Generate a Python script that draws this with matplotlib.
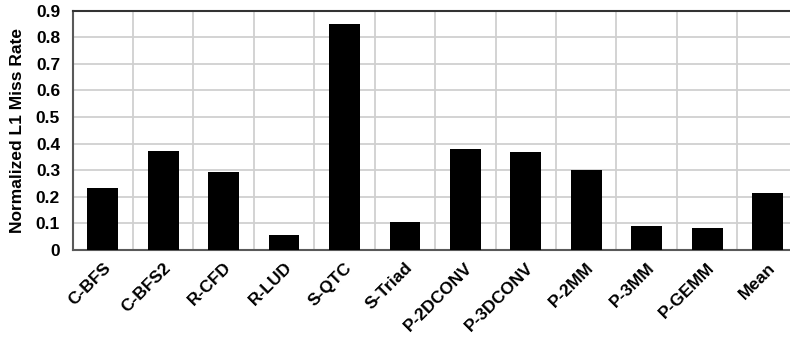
import numpy as np
import matplotlib
matplotlib.use('Agg')
import matplotlib.pyplot as plt

plt.rcParams['font.family'] = ['Liberation Sans', 'DejaVu Sans']
plt.rcParams['font.weight'] = 'bold'

names = ['C-BFS', 'C-BFS2', 'R-CFD', 'R-LUD', 'S-QTC', 'S-Triad',
         'P-2DCONV', 'P-3DCONV', 'P-2MM', 'P-3MM', 'P-GEMM', 'Mean']
miss = [0.233, 0.371, 0.292, 0.058, 0.849, 0.106,
        0.379, 0.369, 0.302, 0.090, 0.084, 0.213]

fig = plt.figure(figsize=(7.9, 3.39), dpi=100)
ax = fig.add_axes([0.0918, 0.2625, 0.918, 0.7065])
ax.set_axisbelow(True)

x = np.arange(len(names))
ax.bar(x, miss, width=0.51, color='black', zorder=3)

ax.set_xlim(-0.5, len(names) - 0.5)
ax.set_ylim(0, 0.9)

# grid lines drawn explicitly so they show regardless of tick settings
for yv in np.arange(0.1, 0.85, 0.1):
    ax.axhline(yv, color='#d0d0d0', linewidth=1.3, zorder=0)
for xv in np.arange(0.5, len(names) - 0.5, 1):
    ax.axvline(xv, color='#d0d0d0', linewidth=1.3, zorder=0)

ax.set_yticks(np.arange(0, 0.91, 0.1))
ax.set_yticklabels(['0'] + ['%.1f' % v for v in np.arange(0.1, 0.91, 0.1)],
                   fontsize=12.5, fontweight='bold')
ax.set_xticks(x)
ax.set_xticklabels(names, rotation=45, ha='right', rotation_mode='anchor',
                   fontsize=12.5, fontweight='bold')
ax.tick_params(axis='both', which='both', length=0)
ax.tick_params(axis='y', pad=9)
ax.tick_params(axis='x', pad=7)

ax.set_ylabel('Normalized L1 Miss Rate', fontsize=12.5, fontweight='bold', labelpad=8)

ax.spines['right'].set_visible(False)
ax.spines['top'].set_color('#333333')
ax.spines['top'].set_linewidth(1.5)
ax.spines['left'].set_color('#595959')
ax.spines['left'].set_linewidth(1.5)
ax.spines['bottom'].set_color('#595959')
ax.spines['bottom'].set_linewidth(1.5)

fig.savefig('out.png', dpi=100)
